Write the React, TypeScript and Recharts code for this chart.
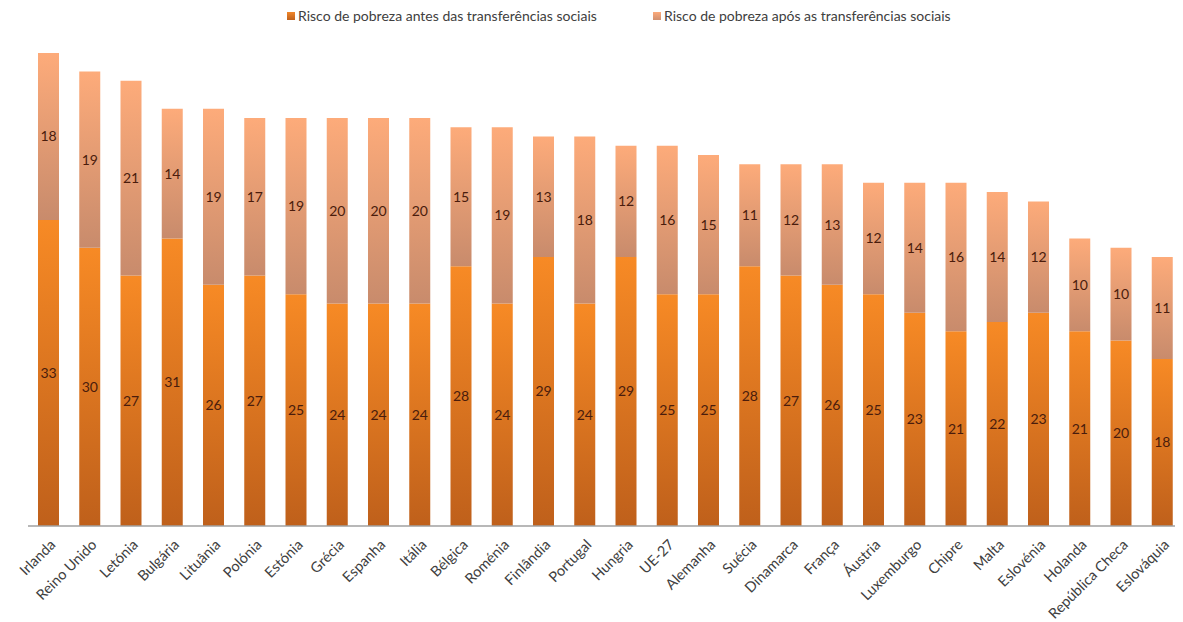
import React from 'react';
import { BarChart, Bar, XAxis, YAxis, LabelList, Legend } from 'recharts';

const countries = [
  'Irlanda', 'Reino Unido', 'Letónia', 'Bulgária', 'Lituânia', 'Polónia', 'Estónia',
  'Grécia', 'Espanha', 'Itália', 'Bélgica', 'Roménia', 'Finlândia', 'Portugal',
  'Hungria', 'UE-27', 'Alemanha', 'Suécia', 'Dinamarca', 'França', 'Áustria',
  'Luxemburgo', 'Chipre', 'Malta', 'Eslovénia', 'Holanda', 'República Checa', 'Eslováquia',
];
const riscoAntes = [33, 30, 27, 31, 26, 27, 25, 24, 24, 24, 28, 24, 29, 24, 29, 25, 25, 28, 27, 26, 25, 23, 21, 22, 23, 21, 20, 18];
const riscoApos = [18, 19, 21, 14, 19, 17, 19, 20, 20, 20, 15, 19, 13, 18, 12, 16, 15, 11, 12, 13, 12, 14, 16, 14, 12, 10, 10, 11];
const seriesNames = [
  'Risco de pobreza antes das transferências sociais',
  'Risco de pobreza após as transferências sociais',
];

const data = countries.map((name, i) => ({ name, antes: riscoAntes[i], apos: riscoApos[i] }));

const FONT = 'Lato, "Liberation Sans", sans-serif';

const Tick = (props: any) => {
  const { x, y, payload } = props;
  return (
    <g transform={`translate(${x + 2},${y + 6})`}>
      <text x={0} y={0} dy={8} textAnchor="end" transform="rotate(-45)" fontSize={14.5} fill="#404040" fontFamily={FONT}>
        {payload.value}
      </text>
    </g>
  );
};

const LegendContent = () => (
  <div style={{ position: 'relative', height: 22, fontFamily: FONT, fontSize: 14, color: '#404040' }}>
    <div style={{ position: 'absolute', left: 279, top: -1, display: 'flex', alignItems: 'center' }}>
      <span style={{ width: 8, height: 8, background: 'linear-gradient(#F0862A,#C0611B)', marginRight: 3, display: 'inline-block' }} />
      <span>{seriesNames[0]}</span>
    </div>
    <div style={{ position: 'absolute', left: 645, top: -1, display: 'flex', alignItems: 'center' }}>
      <span style={{ width: 8, height: 8, background: 'linear-gradient(#FCAA7A,#D09070)', marginRight: 3, display: 'inline-block' }} />
      <span>{seriesNames[1]}</span>
    </div>
  </div>
);

export default function App() {
  return (
    <BarChart
      width={1175}
      height={614}
      data={data}
      margin={{ top: 23, right: 0, left: 20, bottom: 6 }}
      barSize={21}
    >
      <defs>
        <linearGradient id="gAntes" x1="0" y1="0" x2="0" y2="1">
          <stop offset="0%" stopColor="#F78A25" />
          <stop offset="100%" stopColor="#BF601B" />
        </linearGradient>
        <linearGradient id="gApos" x1="0" y1="0" x2="0" y2="1">
          <stop offset="0%" stopColor="#FDAB7A" />
          <stop offset="100%" stopColor="#C88B6C" />
        </linearGradient>
      </defs>
      <Legend verticalAlign="top" align="left" content={<LegendContent />} wrapperStyle={{ top: 0, left: 0, width: 1175 }} />
      <XAxis
        dataKey="name"
        interval={0}
        tickLine={false}
        axisLine={{ stroke: '#A0A0A0', strokeWidth: 1.5 }}
        height={90}
        tick={<Tick />}
      />
      <YAxis hide domain={[0, 51]} allowDataOverflow />
      <Bar dataKey="antes" name={seriesNames[0]} stackId="a" fill="url(#gAntes)" isAnimationActive={false}>
        <LabelList dataKey="antes" position="center" fill="#4A1C0C" fontSize={14} fontFamily={FONT} />
      </Bar>
      <Bar dataKey="apos" name={seriesNames[1]} stackId="a" fill="url(#gApos)" isAnimationActive={false}>
        <LabelList dataKey="apos" position="center" fill="#4A1C0C" fontSize={14} fontFamily={FONT} />
      </Bar>
    </BarChart>
  );
}
